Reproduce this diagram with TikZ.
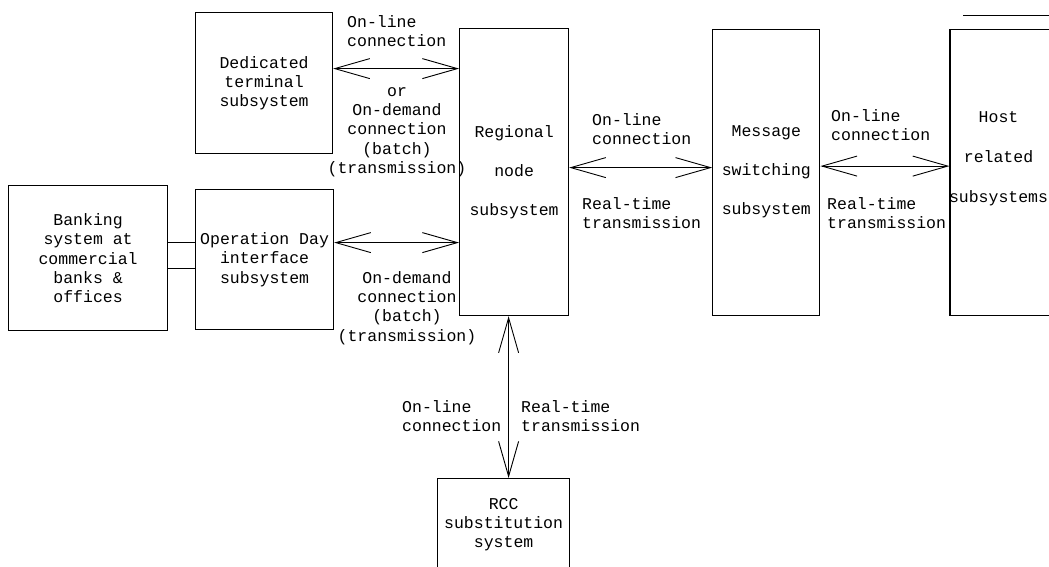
\documentclass[tikz,border=0pt]{standalone}
\usepackage{fontspec}
\newfontfamily\monofont{Liberation Mono}
\usepackage{tikz}
\usetikzlibrary{arrows.meta, positioning, calc}

\begin{document}
\begin{tikzpicture}[
    x=1pt, y=-1pt,
    font=\monofont\fontsize{16.5}{19.3}\selectfont,
    % node styles
    block/.style={rectangle, draw=black, line width=1.2pt, inner sep=0pt, align=center},
    tall/.style={block, minimum height=286pt, font=\monofont\fontsize{16.5}{39}\selectfont},
    note/.style={inner sep=0pt, align=left, anchor=west},
    stack/.style={inner sep=0pt, align=center},
    % line styles
    biarrow/.style={{Straight Barb[length=35pt,width=20pt]}-{Straight Barb[length=35pt,width=20pt]}, line width=0.9pt},
    link/.style={line width=0.9pt}
]
\useasboundingbox (0,0) rectangle (1049,566);
\clip (0,0) rectangle (1049,566);

% 1. left group
\node[block, minimum width=159pt, minimum height=145pt, anchor=north west] (bank) at (8,185) {Banking\\system at\\commercial\\banks \&\\offices};
\node[block, minimum width=137pt, minimum height=141pt, anchor=north west] (dts) at (195,12) {Dedicated\\terminal\\subsystem};
\node[block, minimum width=138pt, minimum height=140pt, anchor=north west] (opd) at (195,189) {Operation Day\\interface\\subsystem};

% 2. main row
\node[tall, minimum width=109pt, minimum height=287pt, anchor=north west] (reg) at (459,28) {Regional\\node\\subsystem};
\node[tall, minimum width=107pt, right=143pt of reg] (msg) {Message\\switching\\subsystem};
\node[tall, minimum width=105pt, right=129pt of msg,
      label={[name=hosttext, align=center, inner sep=0pt, xshift=-4pt, yshift=13pt, font=\monofont\fontsize{16.5}{40}\selectfont]center:Host\\related\\subsystems}] (host) {};
\draw[link] (963,15) -- (1052,15);

% 3. backup below
\node[block, minimum width=132pt, minimum height=92pt, anchor=north west] (rcc) at (437,478) {RCC\\substitution\\system};

% connectors
\draw[link] ([yshift=15.5pt]bank.east) -- ([yshift=15.5pt]bank.east -| opd.west);
\draw[link] ([yshift=-10.5pt]bank.east) -- ([yshift=-10.5pt]bank.east -| opd.west);
\draw[biarrow] ([yshift=14.5pt]dts.east) -- ([yshift=14.5pt]dts.east -| reg.west);
\draw[biarrow] ([yshift=17pt]opd.east) -- ([yshift=17pt]opd.east -| reg.west);
\draw[biarrow] ([yshift=4.5pt]reg.east) -- ([yshift=4.5pt]reg.east -| msg.west);
\draw[biarrow] ([yshift=6pt]msg.east) -- ([yshift=6pt]msg.east -| host.west);
\draw[biarrow] ([xshift=-5.5pt]reg.south) -- ([xshift=-5.5pt]reg.south |- rcc.north);

% labels on the connectors
\node[note] (l1) at (347,31) {On-line\\connection};
\node[stack] (l2) at (397,132) {or\\On-demand\\connection\\(batch)\\(transmission)};
\node[stack] (l3) at (407,308) {On-demand\\connection\\(batch)\\(transmission)};
\node[note] (l4) at (592,129) {On-line\\connection};
\node[note] (l5) at (582,213) {Real-time\\transmission};
\node[note] (l6) at (831,125) {On-line\\connection};
\node[note] (l7) at (827,213) {Real-time\\transmission};
\node[note] (l8) at (402,416) {On-line\\connection};
\node[note] (l9) at (521,416) {Real-time\\transmission};

\end{tikzpicture}
\end{document}
